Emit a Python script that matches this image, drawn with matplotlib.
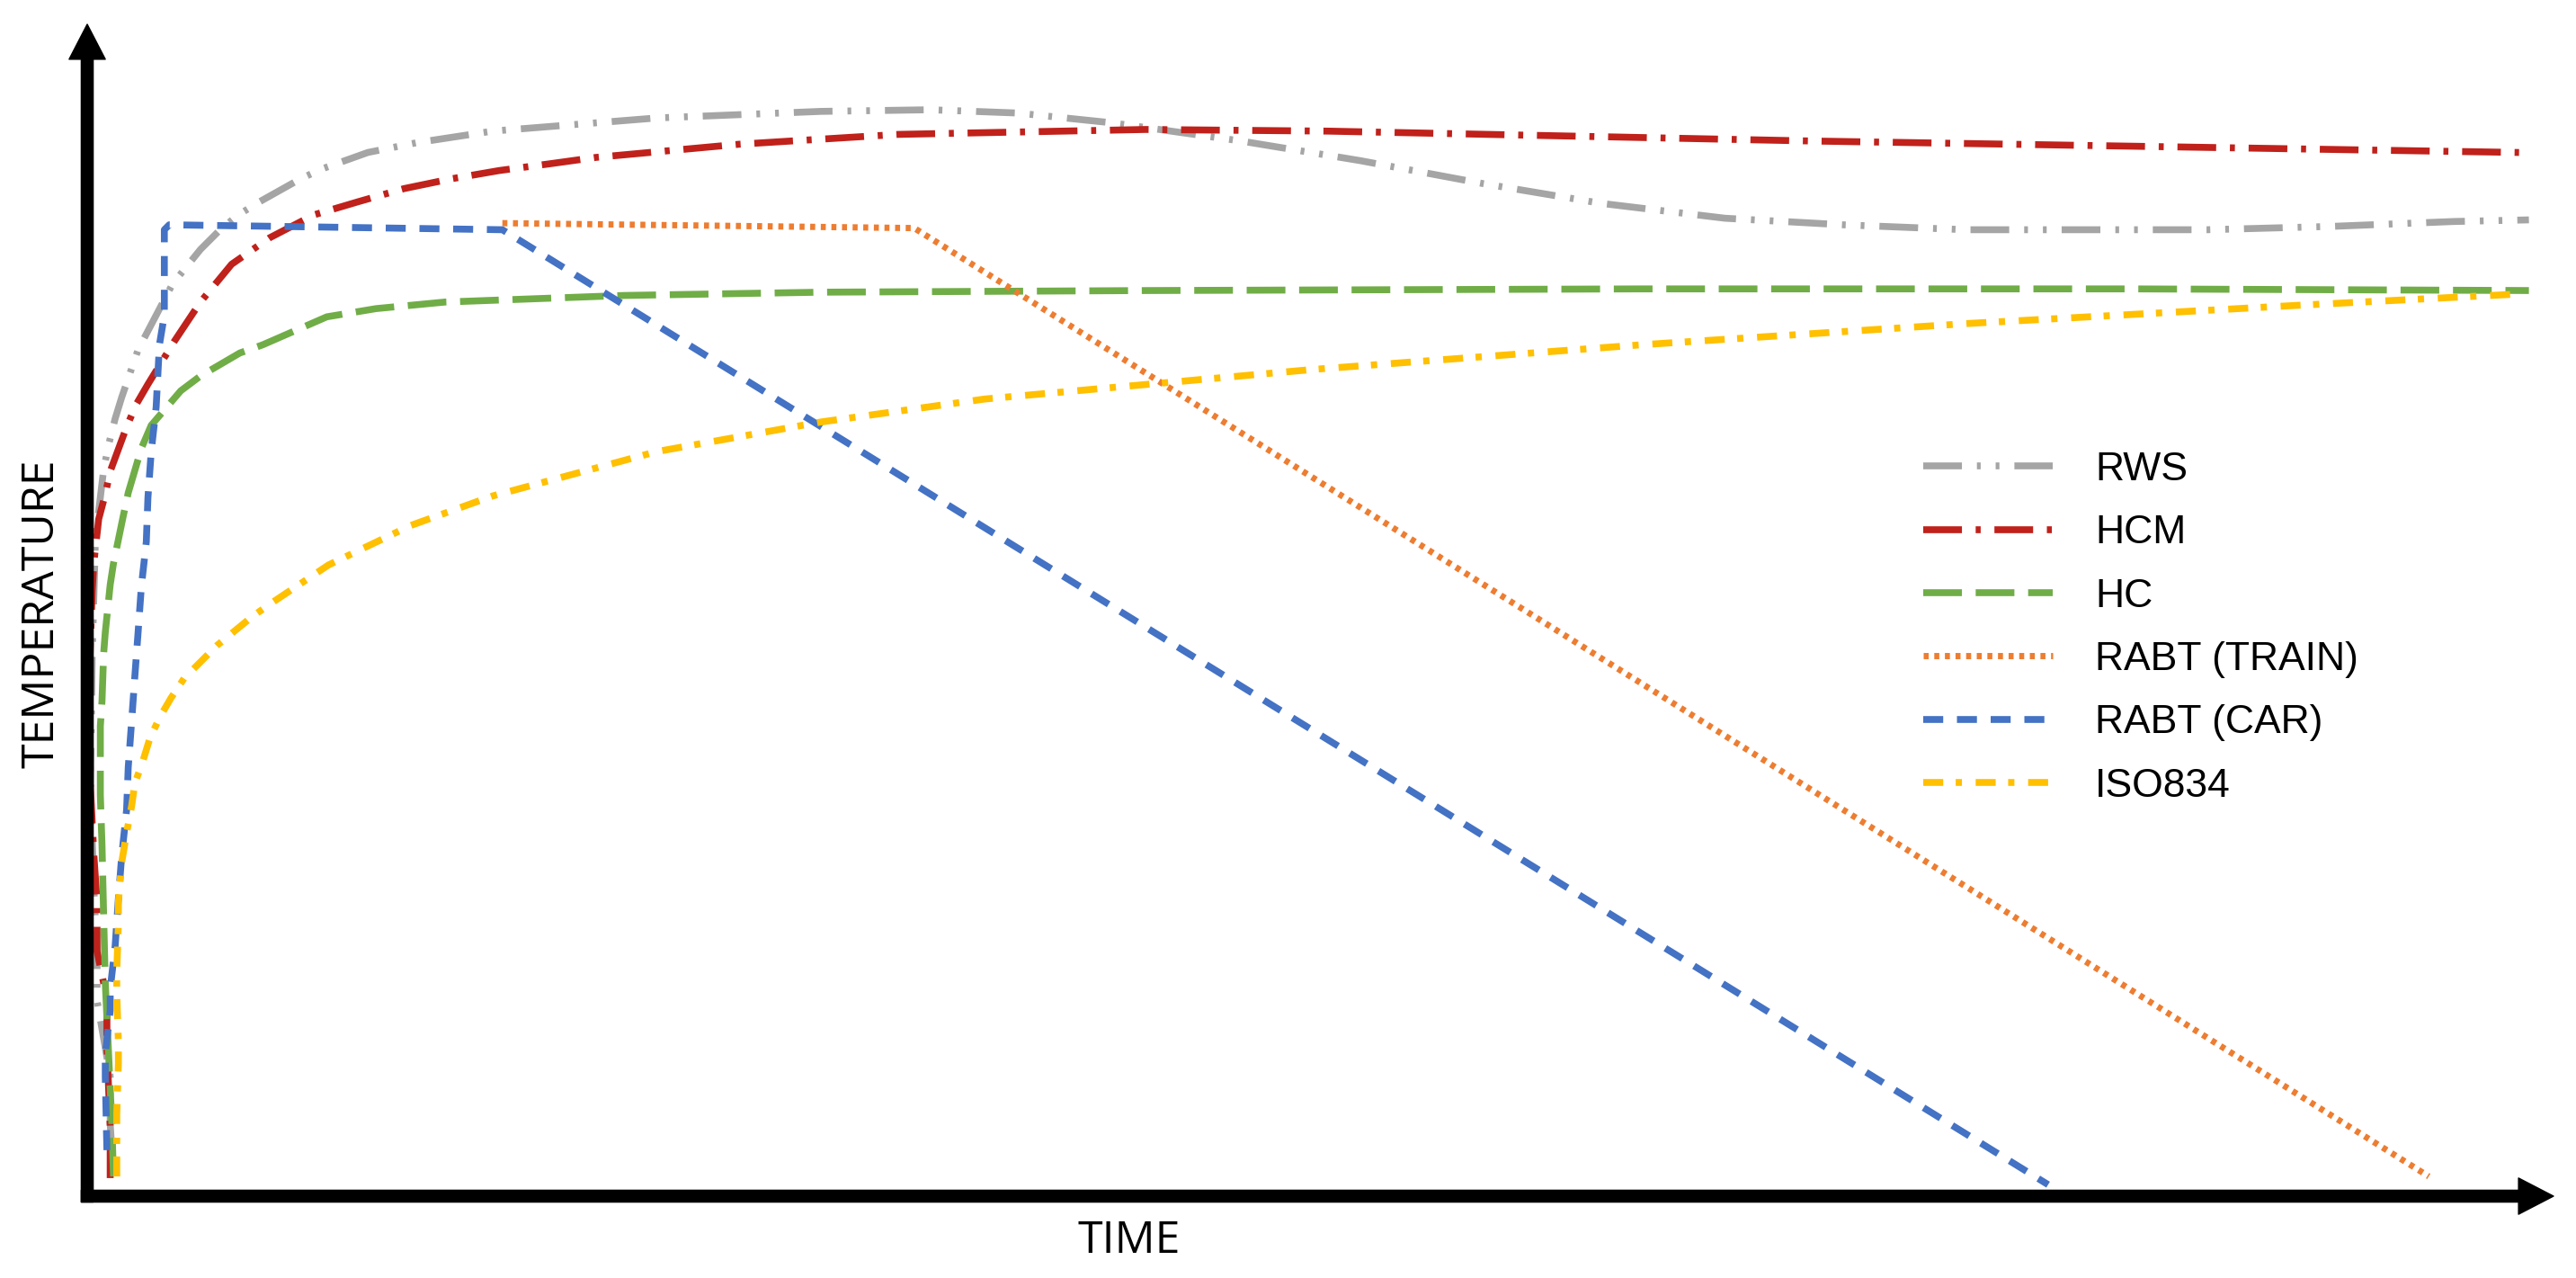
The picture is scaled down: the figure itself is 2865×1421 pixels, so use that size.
import matplotlib.pyplot as plt
from matplotlib.font_manager import FontProperties

plt.rcParams['lines.scale_dashes'] = False

# schematic fire curves (time, temperature in chart units)
rws_t = [15, 14, 14, 6, 6, 4, 2, 3, 5, 10, 13, 17, 21, 31, 52, 69, 81, 92, 105, 130,
         143, 171, 201, 247, 347, 447, 514, 567, 625, 703, 776, 851, 923, 998, 1070,
         1145, 1220, 1292, 1367, 1442, 1488]
rws_T = [28, 44, 73, 119, 148, 188, 248, 328, 400, 442, 457, 473, 486, 515, 555, 576,
         588, 597, 605, 619, 625, 635, 641, 648, 656, 660, 661, 659, 653, 642, 630, 616,
         604, 595, 591, 588, 588, 588, 590, 593, 594]

hcm_t = [14, 14, 12, 12, 6, 6, 4, 2, 1, 3, 4, 7, 11, 14, 24, 30, 37, 53, 69, 88, 111,
         138, 165, 193, 222, 251, 281, 310, 397, 494, 645, 756, 1050, 1482]
hcm_T = [11, 42, 91, 120, 149, 179, 208, 248, 308, 368, 385, 412, 427, 441, 468, 482,
         494, 520, 544, 567, 583, 597, 605, 613, 619, 624, 628, 632, 640, 646, 649, 648,
         642, 635]

hc_t = [16, 15, 11, 10, 9, 8, 8, 9, 10, 11, 14, 16, 22, 25, 33, 39, 57, 69, 93, 107,
        146, 176, 218, 327, 447, 647, 947, 1247, 1488]
hc_T = [12, 44, 130, 171, 214, 244, 286, 301, 330, 343, 372, 385, 414, 428, 455, 469,
        490, 499, 513, 518, 535, 540, 544, 548, 550, 551, 552, 552, 551]

train_t = [253, 504, 1427]
train_T = [592, 589, 12]

car_t = [12, 11, 11, 14, 14, 17, 19, 21, 24, 25, 27, 29, 31, 33, 36, 37, 39, 42, 44,
         47, 47, 50, 253, 1195]
car_T = [28, 73, 86, 113, 126, 152, 181, 207, 235, 261, 288, 316, 343, 371, 398, 425,
         453, 480, 518, 536, 588, 591, 588, 7]

iso_t = [18, 18, 19, 19, 18, 18, 19, 19, 21, 24, 27, 29, 34, 38, 44, 51, 59, 69, 79,
         90, 101, 114, 147, 197, 247, 347, 447, 547, 747, 947, 1147, 1347, 1484]
iso_T = [12, 50, 81, 94, 122, 137, 166, 179, 203, 221, 237, 251, 265, 278, 291, 303,
         315, 325, 335, 344, 353, 362, 384, 408, 426, 453, 471, 485, 503, 518, 531,
         542, 549]

fig = plt.figure(figsize=(28.65, 14.21), dpi=100)
ax = fig.add_axes([0.03386, 0.06404, 0.99127 - 0.03386, 0.981 - 0.06404])
ax.set_xlim(0, 1503)
ax.set_ylim(0, 713)
ax.axis('off')

lw = 5.5
ax.plot(rws_t, rws_T, color='#a5a5a5', lw=lw, ls=(0, (31, 12, 3, 12, 3, 12)), label='RWS')
ax.plot(hcm_t, hcm_T, color='#c0211b', lw=lw, ls=(0, (31, 11, 4, 11)), label='HCM')
ax.plot(hc_t, hc_T, color='#70ad47', lw=lw, ls=(0, (31, 11)), label='HC')
ax.plot(train_t, train_T, color='#ed7d31', lw=5, ls=(0, (4, 4.5)), label='RABT (TRAIN)')
ax.plot(car_t, car_T, color='#4472c4', lw=lw, ls=(0, (16, 11)), label='RABT (CAR)')
ax.plot(iso_t, iso_T, color='#ffc000', lw=lw, ls=(0, (16, 10, 5, 11)), label='ISO834')

# axes drawn as thick arrows
arrow = dict(facecolor='black', edgecolor='black', width=9.5, headwidth=29,
             headlength=28, shrink=0)
ax.annotate('', xy=(0, 1), xytext=(0, -0.005), xycoords='axes fraction',
            arrowprops=arrow, annotation_clip=False, zorder=10)
ax.annotate('', xy=(1, 0), xytext=(-0.0024, 0), xycoords='axes fraction',
            arrowprops=arrow, annotation_clip=False, zorder=10)

fig.text(1256 / 2865, 1 - 1393 / 1421, 'TIME', ha='center', va='baseline',
         fontsize=36, family=['Open Sans', 'DejaVu Sans'])
fig.text(60 / 2865, 1 - 682 / 1421, 'TEMPERATURE', ha='center', va='baseline',
         rotation=90, rotation_mode='anchor', fontsize=36,
         family=['Open Sans', 'DejaVu Sans'])

leg_font = FontProperties(family=['Liberation Sans Narrow', 'Liberation Sans'], size=32)
ax.legend(loc='upper left', bbox_to_anchor=(2139 / 2865, 1 - 502 / 1421),
          bbox_transform=fig.transFigure, frameon=False, prop=leg_font,
          handlelength=3.25, handletextpad=1.05, labelspacing=0.66,
          borderpad=0, borderaxespad=0)

fig.savefig('out.png', dpi=100, facecolor='white')
